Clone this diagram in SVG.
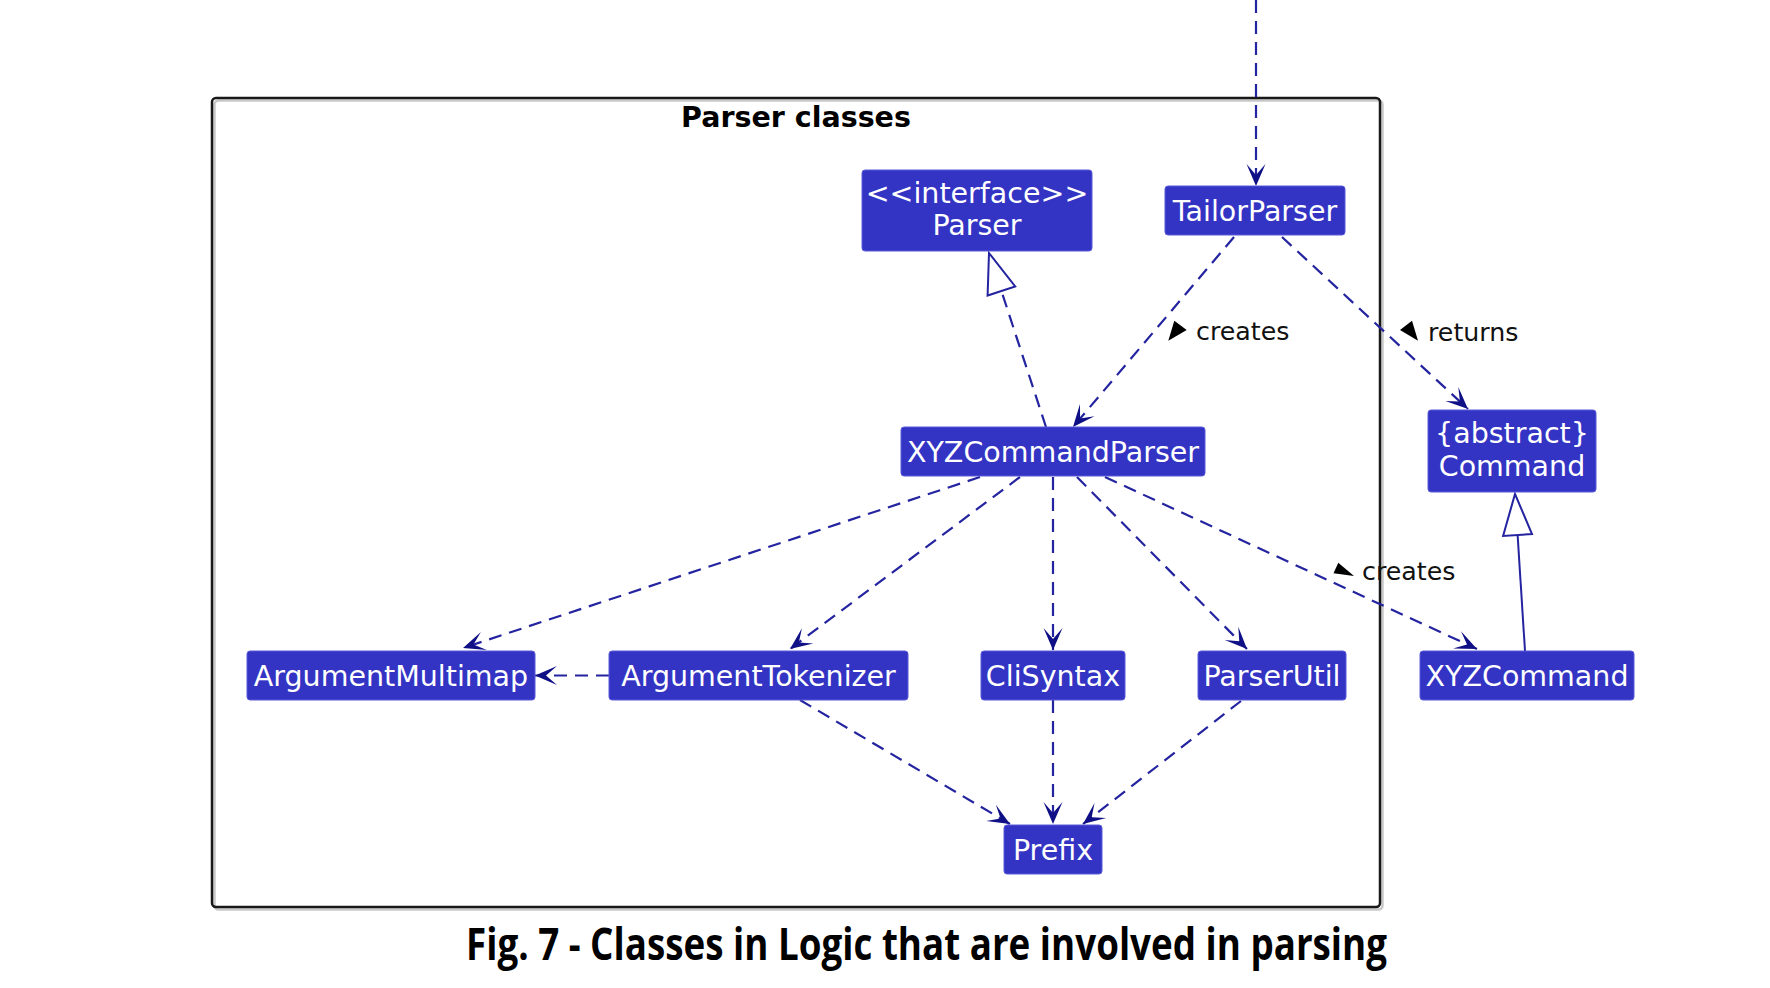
<svg xmlns="http://www.w3.org/2000/svg" width="1770" height="988" viewBox="0 0 1770 988">
<style>
.box{fill:#3333C4;stroke:#5a5ad8;stroke-width:1}
.nt{font-family:"DejaVu Sans",Verdana,sans-serif;font-size:28.5px;fill:#ffffff;text-anchor:middle}
.lbl{font-family:"DejaVu Sans",Verdana,sans-serif;font-size:25.3px;fill:#111111}
.dash{fill:none;stroke:#2424a0;stroke-width:2.2;stroke-dasharray:13 8}
.solid{fill:none;stroke:#2424a0;stroke-width:2}
.tri{fill:#ffffff;stroke:#2424a0;stroke-width:2;stroke-linejoin:miter}
.dir{fill:#000000}
</style>
<defs>
<marker id="ah" viewBox="-24 -11 26 22" refX="0" refY="0" markerWidth="26" markerHeight="22" markerUnits="userSpaceOnUse" orient="auto">
<path d="M0,0 L-22,-9.5 L-11,0 L-22,9.5 Z" fill="#101086"/>
</marker>
</defs>
<rect width="1770" height="988" fill="#ffffff"/>

<g id="package">
<rect x="214.5" y="100.5" width="1168" height="809" rx="4" fill="none" stroke="#c8c8c8" stroke-width="2.5"/>
<rect x="212" y="98" width="1168" height="809" rx="4" fill="none" stroke="#181818" stroke-width="2.5"/>
<text x="796" y="127" font-family="DejaVu Sans,Verdana,sans-serif" font-size="28.5" font-weight="bold" fill="#000" text-anchor="middle">Parser classes</text>
</g>

<g id="connectors">
<path class="dash" d="M1256,0 L1256,186" marker-end="url(#ah)"/>
<path class="dash" d="M1234,237 L1073,427" marker-end="url(#ah)"/>
<path class="dash" d="M1282,237 L1468,409" marker-end="url(#ah)"/>
<path class="dash" d="M1046,427 L1001.4,291"/>
<polygon class="tri" points="989,253 1015.2,286.5 987.6,295.5"/>
<path class="dash" d="M980,477 L463,648" marker-end="url(#ah)"/>
<path class="dash" d="M1020,477 L790,649" marker-end="url(#ah)"/>
<path class="dash" d="M1053,477 L1053,650" marker-end="url(#ah)"/>
<path class="dash" d="M1077,477 L1247,649" marker-end="url(#ah)"/>
<path class="dash" d="M1105,477 L1477,649" marker-end="url(#ah)"/>
<path class="dash" d="M609,675.5 L535,675.5" marker-end="url(#ah)"/>
<path class="dash" d="M800,700 L1010,824" marker-end="url(#ah)"/>
<path class="dash" d="M1053,700 L1053,824" marker-end="url(#ah)"/>
<path class="dash" d="M1241,701 L1083,824" marker-end="url(#ah)"/>
<path class="solid" d="M1525,651 L1517.6,535"/>
<polygon class="tri" points="1515,494 1532,534 1503.1,535.9"/>
<polygon class="dir" points="1174.3,320.7 1186.7,330 1168.3,340.7"/>
<text class="lbl" x="1196" y="340">creates</text>
<polygon class="dir" points="1412,320.7 1400,330 1418,340.7"/>
<text class="lbl" x="1428" y="341">returns</text>
<polygon class="dir" points="1338.3,562.7 1354,576 1333.5,573.3"/>
<text class="lbl" x="1362" y="580">creates</text>
</g>

<g id="node-parser">
<rect class="box" x="862" y="170" width="230" height="81" rx="3"/>
<text class="nt" x="977" y="203">&lt;&lt;interface&gt;&gt;</text>
<text class="nt" x="977" y="235">Parser</text>
</g>
<g id="node-tailorparser">
<rect class="box" x="1165" y="186" width="180" height="49" rx="3"/>
<text class="nt" x="1255" y="220.5">TailorParser</text>
</g>
<g id="node-xyzcommandparser">
<rect class="box" x="901" y="427" width="304" height="49" rx="3"/>
<text class="nt" x="1053" y="461.5">XYZCommandParser</text>
</g>
<g id="node-command">
<rect class="box" x="1428" y="410" width="168" height="82" rx="3"/>
<text class="nt" x="1512" y="443">{abstract}</text>
<text class="nt" x="1512" y="475.5">Command</text>
</g>
<g id="node-argumentmultimap">
<rect class="box" x="247" y="651" width="288" height="49" rx="3"/>
<text class="nt" x="391" y="685.5">ArgumentMultimap</text>
</g>
<g id="node-argumenttokenizer">
<rect class="box" x="609" y="651" width="299" height="49" rx="3"/>
<text class="nt" x="758.5" y="685.5">ArgumentTokenizer</text>
</g>
<g id="node-clisyntax">
<rect class="box" x="981" y="651" width="144" height="49" rx="3"/>
<text class="nt" x="1053" y="685.5">CliSyntax</text>
</g>
<g id="node-parserutil">
<rect class="box" x="1198" y="651" width="148" height="49" rx="3"/>
<text class="nt" x="1272" y="685.5">ParserUtil</text>
</g>
<g id="node-xyzcommand">
<rect class="box" x="1420" y="651" width="214" height="49" rx="3"/>
<text class="nt" x="1527" y="685.5">XYZCommand</text>
</g>
<g id="node-prefix">
<rect class="box" x="1004" y="825" width="98" height="49" rx="3"/>
<text class="nt" x="1053" y="859.5">Prefix</text>
</g>

<text x="466" y="960" font-family="Open Sans,Noto Sans,sans-serif" font-size="44" font-weight="bold" fill="#000" textLength="921" lengthAdjust="spacingAndGlyphs">Fig. 7 - Classes in Logic that are involved in parsing</text>
</svg>
